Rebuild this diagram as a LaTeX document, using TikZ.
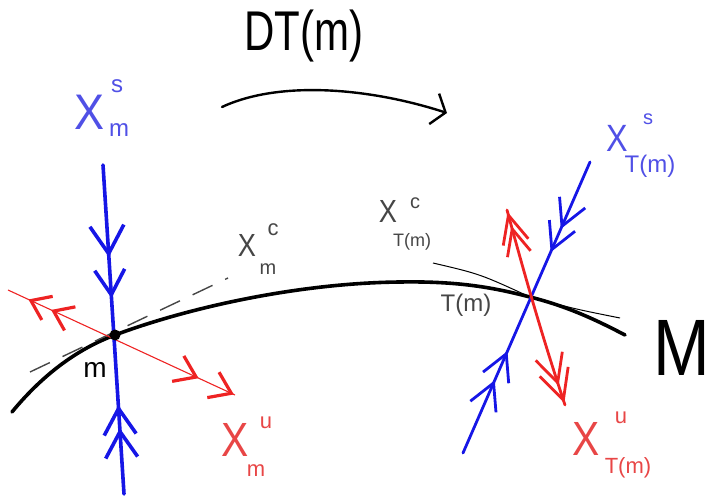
\documentclass[tikz,border=0pt]{standalone}
\usepackage{fontspec}
\setmainfont{Liberation Sans}
\usetikzlibrary{arrows.meta,decorations.markings}
\definecolor{bline}{RGB}{22,22,230}
\definecolor{blab}{RGB}{80,80,230}
\definecolor{rline}{RGB}{238,35,35}
\definecolor{rlab}{RGB}{232,70,70}
\definecolor{glab}{RGB}{70,70,70}
\newcommand\fsz[1]{\fontsize{#1}{#1}\selectfont}
\tikzset{
  lbl/.style={inner sep=0pt, outer sep=0pt},
  manifold/.style={line width=3.6pt, line cap=round},
  bthick/.style={bline, line width=3.6pt, line cap=round},
  bmed/.style={bline, line width=2.8pt, line cap=round},
  rthin/.style={rline, line width=1.1pt},
  rmed/.style={rline, line width=2.8pt, line cap=round},
  mk/.style={postaction={decorate}},
}
\begin{document}
\begin{tikzpicture}[x=1pt,y=-1pt]
\useasboundingbox (0,0) rectangle (710,497);

% coordinates
\coordinate (Mstart) at (12,412);
\coordinate (m) at (115,335);
\coordinate (top) at (400,282);
\coordinate (Tm) at (530,297);
\coordinate (Mend) at (625,335);

% manifold M
\draw[manifold] (Mstart) .. controls (45,372) and (80,348) .. (m)
  .. controls (190,307) and (300,283) .. (top)
  .. controls (460,281) and (495,288) .. (Tm)
  .. controls (570,307) and (600,322) .. (Mend);

% tangent lines (centre directions)
\coordinate (c1a) at (30,372);
\coordinate (c1b) at (228,278);
\draw[glab, line width=1.4pt, dash pattern=on 22pt off 14pt] (c1a) -- (c1b);
\coordinate (c2a) at (433,263);
\coordinate (c2b) at (620,318);
\draw[black, line width=1pt] (c2a) .. controls (480,274) .. (Tm) .. controls (575,309) .. (c2b);

% left unstable (red)
\coordinate (r1a) at (8,290);
\coordinate (r1b) at (235,395);
\draw[rthin, mk, decoration={markings,
  mark=at position 0.09 with {\arrowreversed{Straight Barb[length=18pt,width=26pt,line width=3.2pt 0]}},
  mark=at position 0.19 with {\arrowreversed{Straight Barb[length=18pt,width=26pt,line width=3.2pt 0]}},
  mark=at position 0.84 with {\arrow{Straight Barb[length=20pt,width=28pt,line width=3.2pt 0]}},
  mark=at position 0.995 with {\arrow{Straight Barb[length=20pt,width=28pt,line width=3.2pt 0]}}}]
  (r1a) -- (r1b);

% left stable (blue)
\coordinate (b1a) at (103,165);
\coordinate (b1b) at (124,494);
\draw[bthick, mk, decoration={markings,
  mark=at position 0.28 with {\arrow{Straight Barb[length=28pt,width=34pt,line width=0pt 1]}},
  mark=at position 0.405 with {\arrow{Straight Barb[length=25pt,width=30pt,line width=0pt 1]}},
  mark=at position 0.73 with {\arrowreversed{Straight Barb[length=26pt,width=32pt,line width=0pt 1]}},
  mark=at position 0.80 with {\arrowreversed{Straight Barb[length=26pt,width=32pt,line width=0pt 1]}}}]
  (b1a) -- (b1b);

\fill[black] (m) circle (5.5);

% right stable (blue)
\coordinate (b2a) at (590,162);
\coordinate (b2b) at (463,453);
\draw[bmed, mk, decoration={markings,
  mark=at position 0.23 with {\arrow{Straight Barb[length=26pt,width=28pt,line width=0pt 1]}},
  mark=at position 0.31 with {\arrow{Straight Barb[length=26pt,width=28pt,line width=0pt 1]}},
  mark=at position 0.65 with {\arrowreversed{Straight Barb[length=26pt,width=28pt,line width=0pt 1]}},
  mark=at position 0.75 with {\arrowreversed{Straight Barb[length=26pt,width=28pt,line width=0pt 1]}}}]
  (b2a) -- (b2b);

% right unstable (red)
\coordinate (r2a) at (507,210);
\coordinate (r2b) at (565,405);
\draw[rmed, mk, decoration={markings,
  mark=at position 0.01 with {\arrowreversed{Straight Barb[length=28pt,width=26pt,line width=0pt 1]}},
  mark=at position 0.08 with {\arrowreversed{Straight Barb[length=26pt,width=24pt,line width=0pt 1]}},
  mark=at position 0.90 with {\arrow{Straight Barb[length=28pt,width=28pt,line width=0pt 1]}},
  mark=at position 0.99 with {\arrow{Straight Barb[length=30pt,width=30pt,line width=0pt 1]}}}]
  (r2a) .. controls (522,265) and (540,330) .. (r2b);

% DT(m) arrow
\coordinate (dta) at (222,107);
\coordinate (dtb) at (447,113);
\draw[line width=2.4pt, line cap=round, -{Straight Barb[length=12pt,width=32pt,line width=0pt 1]}]
  (dta) .. controls (280,80) and (370,88) .. (dtb);
\node[lbl, font=\fsz{56}] (dt) at (304,36) {\scalebox{0.75}[1]{DT(m)}};

% labels left
\node[lbl, blab, font=\fsz{50}] (xs1) at (90,112) {\scalebox{0.9}[1]{X}};
\node[lbl, blab, font=\fsz{24}] (xs1s) at (117,86) {s};
\node[lbl, blab, font=\fsz{24}] (xs1m) at (119,130) {m};

\node[lbl, glab, font=\fsz{32}] (xc1) at (247,245) {\scalebox{0.85}[1]{X}};
\node[lbl, glab, font=\fsz{22}] (xc1c) at (273,230) {c};
\node[lbl, glab, font=\fsz{20}] (xc1m) at (268,269) {m};

\node[lbl, black, font=\fsz{28}] (mlab) at (95,370) {m};

\node[lbl, rlab, font=\fsz{48}] (xu1) at (235,440) {\scalebox{0.85}[1]{X}};
\node[lbl, rlab, font=\fsz{22}] (xu1u) at (266,423) {u};
\node[lbl, rlab, font=\fsz{22}] (xu1m) at (256,471) {m};

% labels right
\node[lbl, blab, font=\fsz{38}] (xs2) at (617,138) {\scalebox{0.85}[1]{X}};
\node[lbl, blab, font=\fsz{20}] (xs2s) at (648,119) {s};
\node[lbl, blab, font=\fsz{24}] (xs2t) at (650,166) {T(m)};

\node[lbl, rlab, font=\fsz{48}] (xu2) at (586,439) {\scalebox{0.85}[1]{X}};
\node[lbl, rlab, font=\fsz{22}] (xu2u) at (621,418) {u};
\node[lbl, rlab, font=\fsz{22}] (xu2t) at (628,468) {T(m)};

\node[lbl, glab, font=\fsz{32}] (xc2) at (388,211) {\scalebox{0.85}[1]{X}};
\node[lbl, glab, font=\fsz{20}] (xc2c) at (415,203) {c};
\node[lbl, glab, font=\fsz{18}] (xc2t) at (412,242) {T(m)};

\node[lbl, glab, font=\fsz{24}] (tmlab) at (466,305) {T(m)};

\node[lbl, black, font=\fsz{80}] (Mlab) at (682,348) {\scalebox{0.85}[1]{M}};
\end{tikzpicture}
\end{document}
